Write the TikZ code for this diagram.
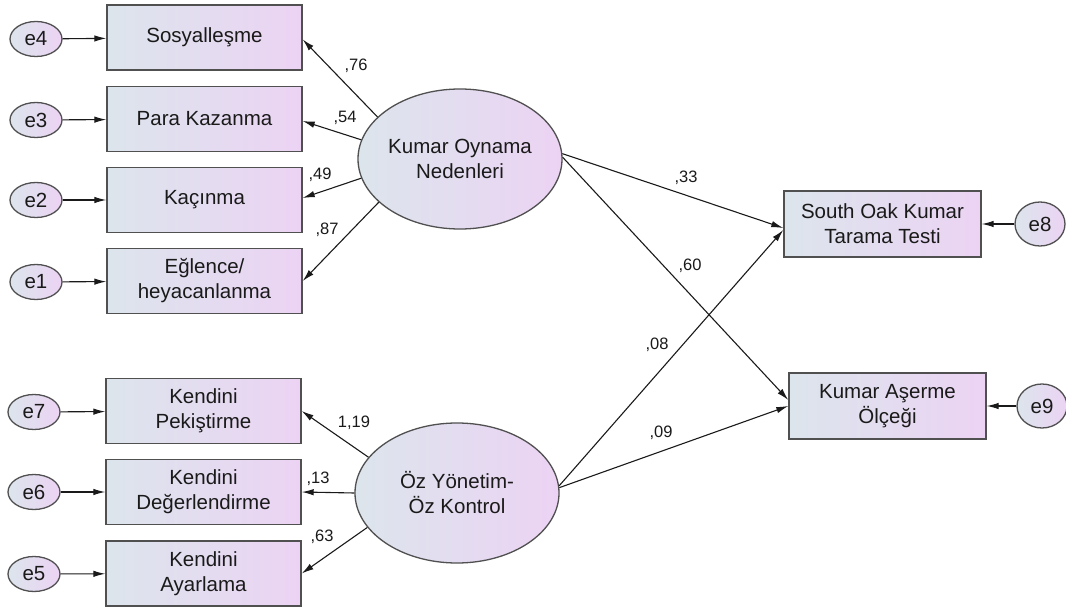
\documentclass[tikz,border=0pt]{standalone}
\usepackage{fontspec}
\setmainfont{Liberation Sans}
\usetikzlibrary{arrows.meta,shapes.geometric}
\definecolor{shA}{HTML}{DCE5EC}
\definecolor{shB}{HTML}{ECD3F4}
\definecolor{edgec}{HTML}{505050}
\definecolor{txt}{HTML}{1A1A1A}
\tikzset{
  obs/.style={draw=edgec, line width=1.4pt, left color=shA, right color=shB,
    minimum width=195pt, minimum height=65pt, inner sep=0pt, align=center,
    text=txt, font=\fontsize{20.5}{25}\selectfont},
  lat/.style={ellipse, draw=edgec, line width=1.3pt, left color=shA, right color=shB,
    minimum width=204pt, minimum height=140pt, inner sep=0pt, align=center,
    text=txt, font=\fontsize{20.5}{25}\selectfont},
  err/.style={ellipse, draw=edgec, line width=1.3pt, left color=shA, right color=shB,
    minimum width=52pt, minimum height=35pt, inner sep=0pt,
    text=txt, font=\fontsize{20.5}{22}\selectfont},
  errR/.style={err, minimum width=50pt, minimum height=44pt},
  arr/.style={draw=txt, line width=1.1pt, -{Latex[length=12pt,width=6.5pt]}},
  lbl/.style={text=txt, font=\fontsize{16.5}{18}\selectfont, inner sep=0pt}
}
\begin{document}
\begin{tikzpicture}[x=1pt,y=-1pt]
\useasboundingbox (0,0) rectangle (1066,612);
% observed boxes left top
\node[obs] (s1) at (204.5,37.5) {Sosyalleşme};
\node[obs] (s2) at (204.5,119) {Para Kazanma};
\node[obs] (s3) at (204.5,200) {Kaçınma};
\node[obs] (s4) at (204.5,281) {Eğlence/\\heyacanlanma};
% observed boxes left bottom
\node[obs] (k1) at (203.5,411) {Kendini\\Pekiştirme};
\node[obs] (k2) at (203.5,492) {Kendini\\Değerlendirme};
\node[obs] (k3) at (203.5,573.5) {Kendini\\Ayarlama};
% right boxes
\node[obs, minimum width=197pt, minimum height=66pt] (so) at (882.5,224) {South Oak Kumar\\Tarama Testi};
\node[obs, minimum width=197pt, minimum height=66pt] (ka) at (887.5,406) {Kumar Aşerme\\Ölçeği};
% latent
\node[lat] (ko) at (460,159) {Kumar Oynama\\Nedenleri};
\node[lat] (oz) at (457,493) {Öz Yönetim-\\Öz Kontrol};
% errors
\node[err] (e4) at (36,39) {e4};
\node[err] (e3) at (36,120) {e3};
\node[err] (e2) at (36,200) {e2};
\node[err] (e1) at (36,282) {e1};
\node[err] (e7) at (34,412) {e7};
\node[err] (e6) at (34,492) {e6};
\node[err] (e5) at (34,574) {e5};
\node[errR] (e8) at (1040,224) {e8};
\node[errR] (e9) at (1042,406) {e9};
% error arrows
\draw[arr] (e4) -- (s1);
\draw[arr] (e3) -- (s2);
\draw[arr] (e2) -- (s3);
\draw[arr] (e1) -- (s4);
\draw[arr] (e7) -- (k1);
\draw[arr] (e6) -- (k2);
\draw[arr] (e5) -- (k3);
\draw[arr] (e8) -- (so);
\draw[arr] (e9) -- (ka);
% loadings
\draw[arr] (ko.153) -- ([yshift=-2pt]s1.east);
\draw[arr] (ko.169) -- ([yshift=-2pt]s2.east);
\draw[arr] (ko.191) -- ([yshift=2pt]s3.east);
\draw[arr] (ko.208) -- (s4.east);
\draw[arr] (oz.158) -- (k1.east);
\draw[arr] (oz.180) -- (k2.east);
\draw[arr] (oz.201) -- (k3.east);
% structural
\draw[arr] (ko.3) -- ([yshift=-4pt]so.west);
\draw[arr] (oz.4) -- ([yshift=-6pt]so.west);
\draw[arr] (ko.1) -- ([yshift=6pt]ka.west);
\draw[arr] (oz.3) -- (ka.west);
% labels
\node[lbl] (l76) at (356,66) {,76};
\node[lbl] (l54) at (345,118) {,54};
\node[lbl] (l49) at (320,175) {,49};
\node[lbl] (l87) at (327,230) {,87};
\node[lbl] (l33) at (686,178) {,33};
\node[lbl] (l60) at (690,266) {,60};
\node[lbl] (l08) at (657,345) {,08};
\node[lbl] (l09) at (661,433) {,09};
\node[lbl] (l119) at (354,423) {1,19};
\node[lbl] (l13) at (318,479) {,13};
\node[lbl] (l63) at (322,537) {,63};
\end{tikzpicture}
\end{document}
